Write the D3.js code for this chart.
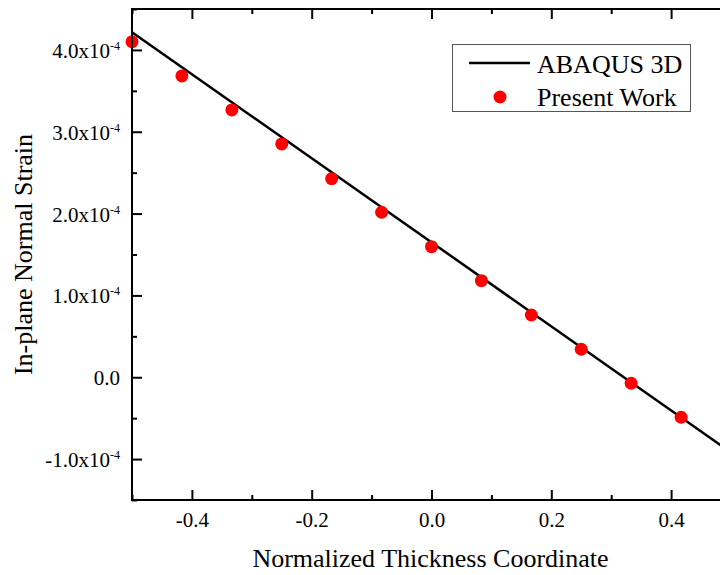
<!DOCTYPE html>
<html>
<head>
<meta charset="utf-8">
<script src="https://cdn.jsdelivr.net/npm/d3@7"></script>
<style>
  html, body { margin: 0; padding: 0; background: #fff; overflow: hidden; }
  svg { display: block; }
  svg text, svg tspan { font-family: "Liberation Serif", "Times New Roman", serif !important; fill: #000; }
</style>
</head>
<body>
<svg id="chart" width="720" height="575" font-family="Liberation Serif"></svg>
<script>
// ---- data ----
const abaqusX = [-0.5, 0.5];
const abaqusY = [4.216e-4, -0.918e-4];

const presentX = [-0.5, -0.4167, -0.3333, -0.25, -0.1667, -0.0833, 0.0, 0.0833, 0.1667, 0.25, 0.3333, 0.4167];
const presentY = [4.10e-4, 3.682e-4, 3.267e-4, 2.851e-4, 2.427e-4, 2.016e-4, 1.596e-4, 1.180e-4, 0.761e-4, 0.342e-4, -0.073e-4, -0.489e-4];

const xTicks = [-0.4, -0.2, 0.0, 0.2, 0.4];
const xTickLabels = ["-0.4", "-0.2", "0.0", "0.2", "0.4"];
const yTicks = [-1e-4, 0, 1e-4, 2e-4, 3e-4, 4e-4];
const yTickMantissa = ["-1.0", "0.0", "1.0", "2.0", "3.0", "4.0"];
const yTickExponent = ["-4", "", "-4", "-4", "-4", "-4"];
const xMinorTicks = [-0.5, -0.3, -0.1, 0.1, 0.3, 0.5];
const yMinorTicks = [-1.5e-4, -0.5e-4, 0.5e-4, 1.5e-4, 2.5e-4, 3.5e-4, 4.5e-4];

const seriesNames = ["ABAQUS 3D", "Present Work"];
const xTitle = "Normalized Thickness Coordinate";
const yTitle = "In-plane Normal Strain";

// ---- layout ----
const FONT = "Liberation Serif";
const svg = d3.select("#chart");
const pLeft = 132, pRight = 731, pTop = 9, pBottom = 500;

const x = d3.scaleLinear().domain([-0.5, 0.5]).range([pLeft, pRight]);
const y = d3.scaleLinear().domain([-1.5e-4, 4.5e-4]).range([pBottom, pTop]);

const axisW = 2;

// data line
const lineData = abaqusX.map((v, i) => [v, abaqusY[i]]);
svg.append("path")
  .datum(lineData)
  .attr("d", d3.line().x(d => x(d[0])).y(d => y(d[1])))
  .attr("fill", "none")
  .attr("stroke", "#000")
  .attr("stroke-width", 2.5);

// points
svg.append("g").selectAll("circle")
  .data(presentX.map((v, i) => [v, presentY[i]]))
  .join("circle")
  .attr("cx", d => x(d[0]))
  .attr("cy", d => y(d[1]))
  .attr("r", 6.5)
  .attr("fill", "#ff0000");

// axes
function styleAxis(g) {
  g.attr("font-family", FONT);
  g.select(".domain").remove();
  g.selectAll(".tick line").attr("stroke", "#000").attr("stroke-width", axisW);
}

// bottom
const xAxis = d3.axisBottom(x).tickValues(xTicks).tickSize(-10).tickPadding(14)
  .tickFormat((d, i) => xTickLabels[i]);
const gx = svg.append("g").attr("transform", `translate(0,${pBottom})`).call(xAxis);
styleAxis(gx);
gx.selectAll(".tick text").attr("font-size", 21).attr("font-family", FONT).attr("dy", null).attr("y", 27);
svg.append("g").attr("transform", `translate(0,${pBottom})`)
  .call(d3.axisBottom(x).tickValues(xMinorTicks).tickSize(-5).tickFormat(""))
  .call(styleAxis);

// top
svg.append("g").attr("transform", `translate(0,${pTop})`)
  .call(d3.axisTop(x).tickValues(xTicks).tickSize(-10).tickFormat(""))
  .call(styleAxis);
svg.append("g").attr("transform", `translate(0,${pTop})`)
  .call(d3.axisTop(x).tickValues(xMinorTicks).tickSize(-5).tickFormat(""))
  .call(styleAxis);

// left
const gy = svg.append("g").attr("transform", `translate(${pLeft},0)`)
  .call(d3.axisLeft(y).tickValues(yTicks).tickSize(-10).tickFormat(""));
styleAxis(gy);
gy.selectAll(".tick text").remove();
gy.selectAll(".tick").each(function(d, i) {
  const t = d3.select(this).append("text")
    .attr("x", -12)
    .attr("y", 7.5)
    .attr("text-anchor", "end")
    .attr("font-family", FONT)
    .attr("font-size", 21);
  if (yTickExponent[i]) {
    t.append("tspan").text(yTickMantissa[i] + "x10");
    t.append("tspan").text(yTickExponent[i]).attr("font-size", 12).attr("dy", -8);
  } else {
    t.append("tspan").text(yTickMantissa[i]);
  }
});
svg.append("g").attr("transform", `translate(${pLeft},0)`)
  .call(d3.axisLeft(y).tickValues(yMinorTicks).tickSize(-5).tickFormat(""))
  .call(styleAxis);

// right (mostly outside view)
svg.append("g").attr("transform", `translate(${pRight},0)`)
  .call(d3.axisRight(y).tickValues(yTicks).tickSize(-10).tickFormat(""))
  .call(styleAxis);

// frame lines
svg.append("line").attr("x1", pLeft).attr("x2", pLeft).attr("y1", pTop - 1).attr("y2", pBottom + 1)
  .attr("stroke", "#000").attr("stroke-width", axisW);
svg.append("line").attr("x1", pLeft - 1).attr("x2", pRight).attr("y1", pBottom).attr("y2", pBottom)
  .attr("stroke", "#000").attr("stroke-width", axisW);
svg.append("line").attr("x1", pLeft - 1).attr("x2", pRight).attr("y1", pTop).attr("y2", pTop)
  .attr("stroke", "#000").attr("stroke-width", axisW);
svg.append("line").attr("x1", pRight).attr("x2", pRight).attr("y1", pTop).attr("y2", pBottom)
  .attr("stroke", "#000").attr("stroke-width", axisW);

// titles
svg.append("text")
  .attr("x", (pLeft + pRight) / 2 - 1)
  .attr("y", 567)
  .attr("text-anchor", "middle")
  .attr("font-family", FONT)
  .attr("font-size", 26)
  .text(xTitle);
svg.append("text")
  .attr("transform", `translate(32,${(pTop + pBottom) / 2}) rotate(-90)`)
  .attr("text-anchor", "middle")
  .attr("font-family", FONT)
  .attr("font-size", 26)
  .text(yTitle);

// legend
const lg = svg.append("g").attr("font-family", FONT);
lg.append("rect")
  .attr("x", 452.5).attr("y", 44.5).attr("width", 238).attr("height", 67)
  .attr("fill", "#fff").attr("stroke", "#555").attr("stroke-width", 1);
lg.append("line").attr("x1", 469).attr("x2", 530).attr("y1", 63).attr("y2", 63)
  .attr("stroke", "#000").attr("stroke-width", 2.5);
lg.append("circle").attr("cx", 500).attr("cy", 97).attr("r", 6.5).attr("fill", "#ff0000");
lg.append("text").attr("x", 537).attr("y", 72.5).attr("font-size", 26).text(seriesNames[0]);
lg.append("text").attr("x", 537).attr("y", 106).attr("font-size", 26).text(seriesNames[1]);
</script>
</body>
</html>
